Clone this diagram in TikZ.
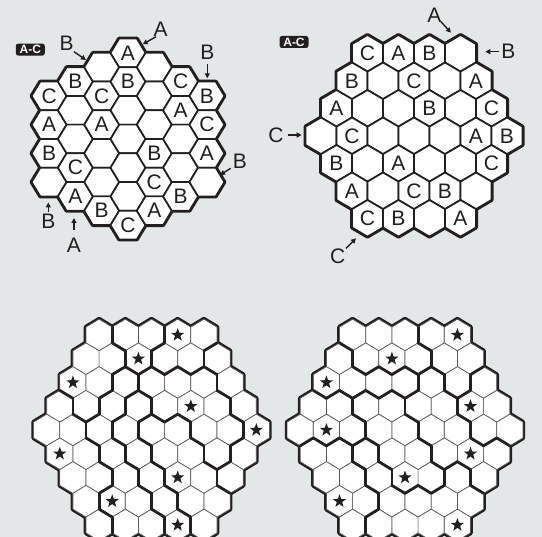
\documentclass[tikz,border=0pt]{standalone}
\usepackage{fontspec}
\setmainfont{Liberation Sans}
\usetikzlibrary{arrows.meta,shapes.geometric}
\definecolor{bg}{HTML}{E4E7E7}
\definecolor{ink}{HTML}{231F20}
\definecolor{gridthin}{HTML}{58595B}
\newcommand\setrow[3]{\expandafter\def\csname reg#1#2\endcsname{{#3}}}
% region maps
\setrow{L}{0}{1,2,2,3,3}
\setrow{L}{1}{1,1,2,3,3,4}
\setrow{L}{2}{1,1,7,5,5,5,4}
\setrow{L}{3}{6,1,7,8,5,5,5,4}
\setrow{L}{4}{6,6,7,8,9,9,5,5,4}
\setrow{L}{5}{6,6,7,8,9,9,5,4}
\setrow{L}{6}{6,6,7,8,9,9,4}
\setrow{L}{7}{6,7,7,8,9,9}
\setrow{L}{8}{6,7,7,8,9}
\setrow{R}{0}{1,1,1,2,2}
\setrow{R}{1}{3,1,1,1,2,2}
\setrow{R}{2}{3,3,3,3,4,2,5}
\setrow{R}{3}{6,6,7,7,4,4,5,5}
\setrow{R}{4}{6,6,6,7,7,4,4,5,5}
\setrow{R}{5}{8,8,9,7,7,4,4,4}
\setrow{R}{6}{8,8,9,7,7,9,4}
\setrow{R}{7}{8,8,9,9,9,9}
\setrow{R}{8}{8,9,9,9,9}
\tikzset{
  lettr/.style={font=\fontsize{21}{21}\selectfont, text=ink, inner sep=0pt},
  lbl/.style={font=\fontsize{21}{21}\selectfont, text=ink, inner sep=0pt},
  badge/.style={fill=ink, rounded corners=2.5pt, text=white, font=\fontsize{12}{12}\selectfont\bfseries, minimum width=29pt, minimum height=12pt, inner sep=0pt},
  ptr/.style={-{Triangle[length=5pt,width=5pt]}, line width=1.4pt, draw=ink},
  bigedge/.style={line width=2.8pt, draw=ink, line cap=round},
  outerpass/.style={line width=4.6pt, draw=ink, line join=round},
  starmark/.style={star, star points=5, star point ratio=2.5, fill=ink, inner sep=0pt, minimum size=14pt},
}
% bottom board: #1 centre x, #2 board letter
\newcommand\bottomboard[2]{%
  \foreach \rw in {0,...,8}{
    \pgfmathtruncatemacro\m{8-abs(\rw-4)}
    \foreach \ci in {0,...,\m}{
      \pgfmathsetmacro\X{#1+(\ci-\m/2)*26.2}
      \pgfmathsetmacro\Y{335+23.75*\rw}
      \draw[outerpass, shift={(\X,\Y)}] (0,-15.83) -- (13.1,-7.92) -- (13.1,7.92) -- (0,15.83) -- (-13.1,7.92) -- (-13.1,-7.92) -- cycle;
    }
  }
  \foreach \rw in {0,...,8}{
    \pgfmathtruncatemacro\m{8-abs(\rw-4)}
    \foreach \ci in {0,...,\m}{
      \pgfmathsetmacro\X{#1+(\ci-\m/2)*26.2}
      \pgfmathsetmacro\Y{335+23.75*\rw}
      \filldraw[fill=white, draw=gridthin, line width=0.7pt, shift={(\X,\Y)}] (0,-15.83) -- (13.1,-7.92) -- (13.1,7.92) -- (0,15.83) -- (-13.1,7.92) -- (-13.1,-7.92) -- cycle;
    }
  }
  \foreach \rw in {0,...,8}{
    \pgfmathtruncatemacro\m{8-abs(\rw-4)}
    \edef\arr{\csname reg#2\rw\endcsname}
    \pgfmathtruncatemacro\rn{min(\rw+1,8)}
    \pgfmathtruncatemacro\mn{8-abs(\rn-4)}
    \edef\arrn{\csname reg#2\rn\endcsname}
    \foreach \ci in {0,...,\m}{
      \pgfmathsetmacro\X{#1+(\ci-\m/2)*26.2}
      \pgfmathsetmacro\Y{335+23.75*\rw}
      \pgfmathtruncatemacro\ra{\arr[\ci]}
      \ifnum\ci<\m
        \pgfmathtruncatemacro\rb{\arr[\ci+1]}
        \ifnum\ra=\rb\else
          \draw[bigedge] (\X+13.1,\Y-7.92) -- (\X+13.1,\Y+7.92);
        \fi
      \fi
      \ifnum\rw<8
        \ifnum\rw<4
          \pgfmathtruncatemacro\jsw{\ci}\pgfmathtruncatemacro\jse{\ci+1}
        \else
          \pgfmathtruncatemacro\jsw{\ci-1}\pgfmathtruncatemacro\jse{\ci}
        \fi
        \ifnum\jsw>-1
          \pgfmathtruncatemacro\rb{\arrn[\jsw]}
          \ifnum\ra=\rb\else
            \draw[bigedge] (\X,\Y+15.83) -- (\X-13.1,\Y+7.92);
          \fi
        \fi
        \ifnum\jse>\mn\else
          \pgfmathtruncatemacro\rb{\arrn[\jse]}
          \ifnum\ra=\rb\else
            \draw[bigedge] (\X+13.1,\Y+7.92) -- (\X,\Y+15.83);
          \fi
        \fi
      \fi
    }
  }
}
\begin{document}
\begin{tikzpicture}[x=1pt,y=-1pt]
\useasboundingbox (0,0) rectangle (542,537);
\fill[bg] (0,0) rectangle (542,537);
\clip (0,0) rectangle (542,537);

% ---------- top left board (flat-top hexes) ----------
\foreach \k in {0,...,6}{
  \pgfmathtruncatemacro\m{6-abs(\k-3)}
  \foreach \j in {0,...,\m}{
    \pgfmathsetmacro\X{128+(\k-3)*26.3}
    \pgfmathsetmacro\Y{139+(\j-\m/2)*28.7}
    \draw[outerpass, line width=4pt, shift={(\X,\Y)}] (-17.5,0) -- (-8.8,-14.35) -- (8.8,-14.35) -- (17.5,0) -- (8.8,14.35) -- (-8.8,14.35) -- cycle;
  }
}
\foreach \k in {0,...,6}{
  \pgfmathtruncatemacro\m{6-abs(\k-3)}
  \foreach \j in {0,...,\m}{
    \pgfmathsetmacro\X{128+(\k-3)*26.3}
    \pgfmathsetmacro\Y{139+(\j-\m/2)*28.7}
    \filldraw[fill=white, draw=ink, line width=1.7pt, line join=round, shift={(\X,\Y)}] (-17.5,0) -- (-8.8,-14.35) -- (8.8,-14.35) -- (17.5,0) -- (8.8,14.35) -- (-8.8,14.35) -- cycle;
  }
}
\foreach \k/\j/\L in {0/0/C,0/1/A,0/2/B,1/0/B,1/3/C,1/4/A,2/1/C,2/2/A,2/5/B,3/0/A,3/1/B,3/6/C,4/3/B,4/4/C,4/5/A,5/0/C,5/1/A,5/4/B,6/0/B,6/1/C,6/2/A}{
  \pgfmathsetmacro\m{6-abs(\k-3)}
  \pgfmathsetmacro\X{128+(\k-3)*26.3}
  \pgfmathsetmacro\Y{139+(\j-\m/2)*28.7}
  \node[lettr] (tl-\k-\j) at (\X,\Y) {\L};
}
\node[badge] (tlbadge) at (30.3,49.6) {A-C};
\node[lbl] (tlB1) at (66.7,43.3) {B};
\coordinate (tlB1s) at (74,51.7); \coordinate (tlB1e) at (86,60);
\draw[ptr] (tlB1s) -- (tlB1e);
\node[lbl] (tlA1) at (160.7,29.3) {A};
\coordinate (tlA1s) at (156,36.7); \coordinate (tlA1e) at (142.7,44.3);
\draw[ptr] (tlA1s) -- (tlA1e);
\node[lbl] (tlB2) at (207.3,52.7) {B};
\coordinate (tlB2s) at (207.3,64.5); \coordinate (tlB2e) at (207.3,78.3);
\draw[ptr] (tlB2s) -- (tlB2e);
\node[lbl] (tlB3) at (240,161.7) {B};
\coordinate (tlB3s) at (230.7,168.3); \coordinate (tlB3e) at (220,175);
\draw[ptr] (tlB3s) -- (tlB3e);
\node[lbl] (tlB4) at (48.3,221) {B};
\coordinate (tlB4s) at (48.3,212.5); \coordinate (tlB4e) at (48.3,202.5);
\draw[ptr] (tlB4s) -- (tlB4e);
\node[lbl] (tlA2) at (74,245.5) {A};
\coordinate (tlA2s) at (74,230); \coordinate (tlA2e) at (74,218);
\draw[ptr] (tlA2s) -- (tlA2e);

% ---------- top right board (pointy-top hexes) ----------
\foreach \rw in {0,...,6}{
  \pgfmathtruncatemacro\m{6-abs(\rw-3)}
  \foreach \ci in {0,...,\m}{
    \pgfmathsetmacro\X{414+(\ci-\m/2)*31}
    \pgfmathsetmacro\Y{53.3+27.5*\rw}
    \draw[outerpass, line width=4pt, shift={(\X,\Y)}] (0,-18.3) -- (15.5,-9.2) -- (15.5,9.2) -- (0,18.3) -- (-15.5,9.2) -- (-15.5,-9.2) -- cycle;
  }
}
\foreach \rw in {0,...,6}{
  \pgfmathtruncatemacro\m{6-abs(\rw-3)}
  \foreach \ci in {0,...,\m}{
    \pgfmathsetmacro\X{414+(\ci-\m/2)*31}
    \pgfmathsetmacro\Y{53.3+27.5*\rw}
    \filldraw[fill=white, draw=ink, line width=1.7pt, line join=round, shift={(\X,\Y)}] (0,-18.3) -- (15.5,-9.2) -- (15.5,9.2) -- (0,18.3) -- (-15.5,9.2) -- (-15.5,-9.2) -- cycle;
  }
}
\foreach \rw/\ci/\L in {0/0/C,0/1/A,0/2/B,1/0/B,1/2/C,1/4/A,2/0/A,2/3/B,2/5/C,3/1/C,3/5/A,3/6/B,4/0/B,4/2/A,4/5/C,5/0/A,5/2/C,5/3/B,6/0/C,6/1/B,6/3/A}{
  \pgfmathsetmacro\m{6-abs(\rw-3)}
  \pgfmathsetmacro\X{414+(\ci-\m/2)*31}
  \pgfmathsetmacro\Y{53.3+27.5*\rw}
  \node[lettr] (tr-\rw-\ci) at (\X,\Y) {\L};
}
\node[badge] (trbadge) at (294,42) {A-C};
\node[lbl] (trA1) at (434.3,15) {A};
\coordinate (trA1s) at (441,21.7); \coordinate (trA1e) at (451,32.7);
\draw[ptr] (trA1s) -- (trA1e);
\node[lbl] (trB1) at (508.3,51.7) {B};
\coordinate (trB1s) at (499.3,51.7); \coordinate (trB1e) at (485.3,51.7);
\draw[ptr] (trB1s) -- (trB1e);
\node[lbl] (trC1) at (276,135) {C};
\coordinate (trC1s) at (287.7,135); \coordinate (trC1e) at (301.7,135);
\draw[ptr] (trC1s) -- (trC1e);
\node[lbl] (trC2) at (337.7,256.7) {C};
\coordinate (trC2s) at (346,248.3); \coordinate (trC2e) at (356,238.3);
\draw[ptr] (trC2s) -- (trC2e);

% ---------- bottom boards ----------
\bottomboard{151.5}{L}
\bottomboard{405}{R}
\foreach \rw/\ci [count=\s] in {0/3,1/2,2/0,3/5,4/8,5/0,6/4,7/1,8/3}{
  \pgfmathsetmacro\m{8-abs(\rw-4)}
  \pgfmathsetmacro\X{151.5+(\ci-\m/2)*26.2}
  \pgfmathsetmacro\Y{335+23.75*\rw}
  \node[starmark] (sl\s) at (\X,\Y) {};
}
\foreach \rw/\ci [count=\s] in {0/4,1/2,2/0,3/6,4/1,5/6,6/3,7/0,8/4}{
  \pgfmathsetmacro\m{8-abs(\rw-4)}
  \pgfmathsetmacro\X{405+(\ci-\m/2)*26.2}
  \pgfmathsetmacro\Y{335+23.75*\rw}
  \node[starmark] (sr\s) at (\X,\Y) {};
}
\end{tikzpicture}
\end{document}
